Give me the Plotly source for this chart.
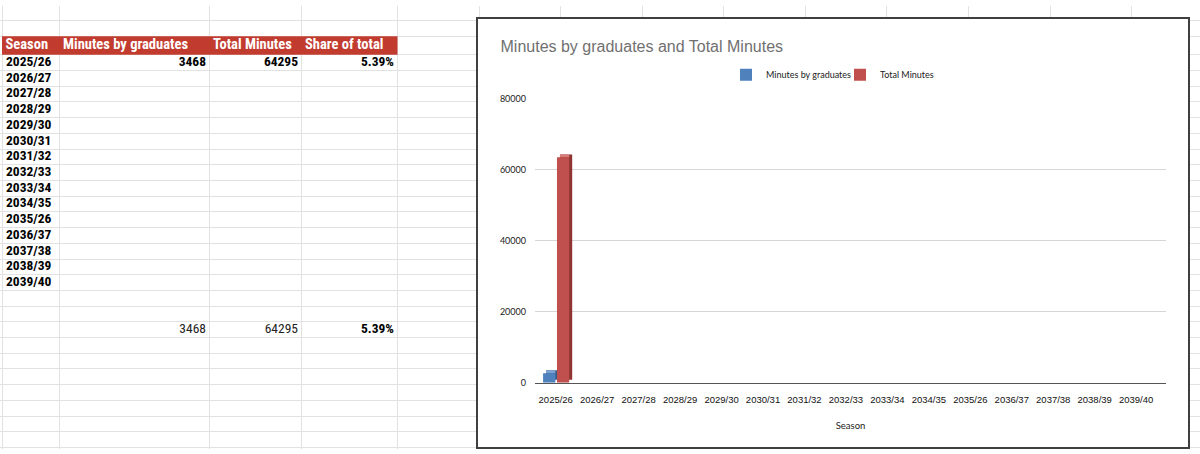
import plotly.graph_objects as go

# ---------------- data ----------------
seasons = ["2025/26", "2026/27", "2027/28", "2028/29", "2029/30", "2030/31",
           "2031/32", "2032/33", "2033/34", "2034/35", "2035/26", "2036/37",
           "2037/38", "2038/39", "2039/40"]
minutes_by_graduates = [3468, None, None, None, None, None, None, None,
                        None, None, None, None, None, None, None]
total_minutes = [64295, None, None, None, None, None, None, None,
                 None, None, None, None, None, None, None]
share_of_total = [0.0539, None, None, None, None, None, None, None,
                  None, None, None, None, None, None, None]
column_headers = ["Season", "Minutes by graduates", "Total Minutes", "Share of total"]
sum_minutes_by_graduates = 3468
sum_total_minutes = 64295
sum_share_of_total = 0.0539
y_tick_values = [0, 20000, 40000, 60000, 80000]
chart_title = "Minutes by graduates and Total Minutes"
x_axis_title = "Season"
series_names = ["Minutes by graduates", "Total Minutes"]

# ---------------- layout constants ----------------
W, H = 1200, 454
def fx(px):
    return px / W
def fy(py):
    return 1 - py / H

COL_EDGES = [2, 59.5, 209.5, 301.5, 397.5, 479, 560.5, 642, 723.5, 805,
             886.5, 968, 1050, 1131.5]
HEADER_TOP, HEADER_BOTTOM = 31, 50
ROW_H = 16.1
N_ROWS = 26
ROW_EDGES = [14.5, HEADER_TOP] + [HEADER_BOTTOM + ROW_H * k for k in range(N_ROWS)]
TOTALS_ROW = 17
HEADER_MID = (HEADER_TOP + HEADER_BOTTOM) / 2
def row_mid(i):
    return HEADER_BOTTOM + ROW_H * (i + 0.5)

BOX = (478.3, 13.3, 1188.3, 452.3)      # chart frame (px)
PLOT = (535, 95, 1166, 386)             # plot area (px)
X_RANGE = [-0.5, 14.72]
Y_RANGE = [0, 80000]

SHEET_FONT = "Roboto Condensed, Liberation Sans Narrow, DejaVu Sans Condensed, Roboto, sans-serif"
GRID = "#e2e2e2"
HEADER_RED = "#c23b2f"

# 3D look of the bars
BAR_W = 0.295
OFFSETS = [-0.305, 0.03]
DX = 0.072
DY = 825
FRONT = ["#4f81bd", "#c0504d"]
SIDE = ["#375d8c", "#8e3532"]
TOP = ["#7ea3d3", "#d97d7a"]

fig = go.Figure()

# ---------------- spreadsheet texts ----------------
fig.add_trace(go.Scatter(
    x=[COL_EDGES[i] + 3.5 for i in range(len(column_headers))],
    y=[HEADER_MID] * len(column_headers), text=column_headers,
    mode="text", textposition="middle right",
    textfont=dict(family=SHEET_FONT, size=14.5, color="white", weight="bold"),
    xaxis="x", yaxis="y", showlegend=False, hoverinfo="skip"))

fig.add_trace(go.Scatter(
    x=[COL_EDGES[0] + 4] * len(seasons),
    y=[row_mid(i) for i in range(len(seasons))], text=seasons,
    mode="text", textposition="middle right",
    textfont=dict(family=SHEET_FONT, size=13.5, color="black", weight="bold"),
    xaxis="x", yaxis="y", showlegend=False, hoverinfo="skip"))

def fmt_int(v):
    return f"{v:d}"
def fmt_pct(v):
    return f"{v * 100:.2f}%"

cx, cy, ct = [], [], []
for col, series, fmt in [(1, minutes_by_graduates, fmt_int),
                         (2, total_minutes, fmt_int),
                         (3, share_of_total, fmt_pct)]:
    for i, v in enumerate(series):
        if v is not None:
            cx.append(COL_EDGES[col + 1] - 3.5)
            cy.append(row_mid(i))
            ct.append(fmt(v))
# bold percentage in totals row
cx.append(COL_EDGES[4] - 3.5)
cy.append(row_mid(TOTALS_ROW))
ct.append(fmt_pct(sum_share_of_total))
fig.add_trace(go.Scatter(
    x=cx, y=cy, text=ct, mode="text", textposition="middle left",
    textfont=dict(family=SHEET_FONT, size=13.5, color="black", weight="bold"),
    xaxis="x", yaxis="y", showlegend=False, hoverinfo="skip"))

fig.add_trace(go.Scatter(
    x=[COL_EDGES[2] - 3.5, COL_EDGES[3] - 3.5],
    y=[row_mid(TOTALS_ROW)] * 2,
    text=[fmt_int(sum_minutes_by_graduates), fmt_int(sum_total_minutes)],
    mode="text", textposition="middle left",
    textfont=dict(family=SHEET_FONT, size=13.5, color="#222222", weight="normal"),
    xaxis="x", yaxis="y", showlegend=False, hoverinfo="skip"))

# empty trace so the chart-frame subplot is created
fig.add_trace(go.Scatter(x=[None], y=[None], mode="lines", xaxis="x2", yaxis="y2",
                         showlegend=False, hoverinfo="skip"))

# ---------------- 3D-style bars ----------------
for k, vals in enumerate([minutes_by_graduates, total_minutes]):
    off = OFFSETS[k]
    fig.add_trace(go.Bar(
        x=seasons, y=[(v - DY) if v is not None else None for v in vals], base=DY,
        offset=off + DX, width=BAR_W, marker=dict(color=SIDE[k], line=dict(width=0)),
        xaxis="x3", yaxis="y3", showlegend=False, hoverinfo="skip"))
    fig.add_trace(go.Bar(
        x=seasons, y=[DY if v is not None else None for v in vals],
        base=[(v - DY) if v is not None else 0 for v in vals],
        offset=off + DX, width=BAR_W - DX, marker=dict(color=TOP[k], line=dict(width=0)),
        xaxis="x3", yaxis="y3", showlegend=False, hoverinfo="skip"))
    fig.add_trace(go.Bar(
        x=seasons, y=[(v - DY) if v is not None else None for v in vals], base=0,
        offset=off, width=BAR_W, marker=dict(color=FRONT[k], line=dict(width=0)),
        name=series_names[k], xaxis="x3", yaxis="y3"))

fig.update_layout(
    width=W, height=H, autosize=False,
    margin=dict(l=0, r=0, t=0, b=0),
    paper_bgcolor="white", plot_bgcolor="white",
    barmode="overlay", hovermode=False,
    title=dict(text=chart_title, x=fx(500.5), xanchor="left", xref="paper",
               y=fy(41.5), yanchor="middle", yref="paper",
               font=dict(family="Liberation Sans, Arial, sans-serif", size=16, color="#707070")),
    legend=dict(orientation="h", x=fx(726), xanchor="left", y=fy(70.5), yanchor="middle",
                entrywidth=69,
                font=dict(family="Lato, Calibri, sans-serif", size=9, color="#222222"),
                bgcolor="rgba(0,0,0,0)", traceorder="normal"),
    # spreadsheet canvas
    xaxis=dict(domain=[0, 1], range=[0, W], tickmode="array", tickvals=COL_EDGES,
               showgrid=True, gridcolor=GRID, gridwidth=1, showticklabels=False,
               ticks="", zeroline=False, showline=False, anchor="y"),
    yaxis=dict(domain=[0, 1], range=[H, 0], tickmode="array", tickvals=ROW_EDGES,
               showgrid=True, gridcolor=GRID, gridwidth=1, showticklabels=False,
               ticks="", zeroline=False, showline=False, anchor="x"),
    # chart frame
    xaxis2=dict(domain=[fx(BOX[0]), fx(BOX[2])], range=[0, 1], anchor="y2",
                showline=True, mirror=True, linecolor="#404040", linewidth=1.5,
                showgrid=False, zeroline=False, showticklabels=False, ticks=""),
    yaxis2=dict(domain=[fy(BOX[3]), fy(BOX[1])], range=[0, 1], anchor="x2",
                showline=True, mirror=True, linecolor="#404040", linewidth=1.5,
                showgrid=False, zeroline=False, showticklabels=False, ticks=""),
    # chart axes
    xaxis3=dict(domain=[fx(PLOT[0]), fx(PLOT[2])], type="category", range=X_RANGE,
                categoryorder="array", categoryarray=seasons,
                tickmode="array", tickvals=seasons, tickangle=0,
                showline=True, linecolor="#555555", linewidth=1,
                showgrid=False, zeroline=False, ticks="", ticklabelstandoff=8,
                tickfont=dict(family="Liberation Sans, Arial, sans-serif", size=9.5, color="#111111"),
                title=dict(text=x_axis_title, standoff=18,
                           font=dict(family="Lato, Calibri, sans-serif", size=9.5, color="#222222")),
                anchor="y3"),
    yaxis3=dict(domain=[fy(PLOT[3]), fy(PLOT[1])], range=Y_RANGE,
                tickmode="array", tickvals=y_tick_values, tickformat="d",
                showgrid=True, gridcolor="#d6d6d6", gridwidth=1,
                showline=False, zeroline=False, ticks="", ticklabelstandoff=8,
                tickfont=dict(family="Lato, Calibri, sans-serif", size=9, color="#222222"),
                anchor="x3"),
    shapes=[dict(type="rect", xref="x", yref="y", x0=COL_EDGES[0], x1=COL_EDGES[4],
                 y0=HEADER_TOP, y1=HEADER_BOTTOM, fillcolor=HEADER_RED,
                 line=dict(width=0), layer="between")],
)

fig.write_html("out.html")
